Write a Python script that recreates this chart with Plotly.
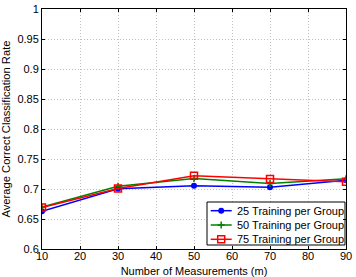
import plotly.graph_objects as go

measurements = [10, 30, 50, 70, 90]
rate_25 = [0.663, 0.7005, 0.7055, 0.703, 0.7145]
rate_50 = [0.670, 0.7045, 0.7175, 0.709, 0.717]
rate_75 = [0.669, 0.701, 0.722, 0.7165, 0.712]
names = ["25 Training per Group", "50 Training per Group", "75 Training per Group"]
y_ticks = [0.6, 0.65, 0.7, 0.75, 0.8, 0.85, 0.9, 0.95, 1]
y_tick_text = ["0.6", "0.65", "0.7", "0.75", "0.8", "0.85", "0.9", "0.95", "1"]
x_ticks = [10, 20, 30, 40, 50, 60, 70, 80, 90]

FONT = "Liberation Sans, Arial, sans-serif"
colors = ["#0000ff", "#008000", "#ff0000"]
markers = [
    dict(symbol="circle", size=6, color=colors[0]),
    dict(symbol="cross-thin", size=5, color=colors[1], line=dict(color=colors[1], width=1.5)),
    dict(symbol="square-open", size=7, color=colors[2], line=dict(color=colors[2], width=1.5)),
]

fig = go.Figure()
for vals, name, col, mk in zip([rate_25, rate_50, rate_75], names, colors, markers):
    fig.add_trace(go.Scatter(x=measurements, y=vals, name=name, mode="lines+markers",
                             line=dict(color=col, width=1.5), marker=mk, showlegend=False))

# --- MATLAB-style legend box drawn on an overlay axis in plot-area pixel units ---
PLOT_W, PLOT_H = 304, 240
box_x0, box_x1, box_y0, box_y1 = 165, 303, 193, 236
row_y = [201.7, 216, 230.3]
line_x0, line_x1, text_x = 168.7, 189.7, 193

fig.add_trace(go.Scatter(x=[box_x0, box_x1, box_x1, box_x0, box_x0],
                         y=[box_y0, box_y0, box_y1, box_y1, box_y0],
                         xaxis="x2", yaxis="y2", mode="lines", fill="toself",
                         fillcolor="white", line=dict(color="black", width=1),
                         hoverinfo="skip", showlegend=False))
for ry, name, col, mk in zip(row_y, names, colors, markers):
    fig.add_trace(go.Scatter(x=[line_x0, line_x1], y=[ry, ry], xaxis="x2", yaxis="y2",
                             mode="lines", line=dict(color=col, width=1.5),
                             hoverinfo="skip", showlegend=False))
    fig.add_trace(go.Scatter(x=[(line_x0 + line_x1) / 2], y=[ry], xaxis="x2", yaxis="y2",
                             mode="markers", marker=mk, hoverinfo="skip", showlegend=False))
    fig.add_annotation(x=text_x, y=ry, xref="x2", yref="y2", text=name, showarrow=False,
                       xanchor="left", yanchor="middle",
                       font=dict(family=FONT, size=11, color="black"))

axis_common = dict(showline=True, linecolor="black", linewidth=1, mirror="ticks",
                   ticks="inside", ticklen=3, tickcolor="black", automargin=False,
                   showgrid=True, gridcolor="#c0c0c0", griddash="1px,2px", gridwidth=1,
                   zeroline=False, tickfont=dict(family=FONT, size=11, color="black"))

fig.update_layout(
    width=356, height=277,
    margin=dict(l=42, r=10, t=9, b=28, autoexpand=False),
    paper_bgcolor="white", plot_bgcolor="white",
    font=dict(family=FONT, size=11, color="black"),
    showlegend=False,
    xaxis=dict(range=[10, 90], tickvals=x_ticks, ticklabelstandoff=-3,
               title=dict(text="Number of Measurements (m)", font=dict(size=11)),
               **axis_common),
    yaxis=dict(range=[0.6, 1], tickvals=y_ticks, ticktext=y_tick_text,
               title=dict(text="Average Correct Classification Rate", font=dict(size=11.2), standoff=4),
               **axis_common),
    xaxis2=dict(overlaying="x", range=[0, PLOT_W], visible=False, fixedrange=True),
    yaxis2=dict(overlaying="y", range=[PLOT_H, 0], visible=False, fixedrange=True),
)

fig.write_html("out.html", config={"displayModeBar": False},
               post_script="document.body.style.margin='0px';document.body.style.overflow='hidden';")
